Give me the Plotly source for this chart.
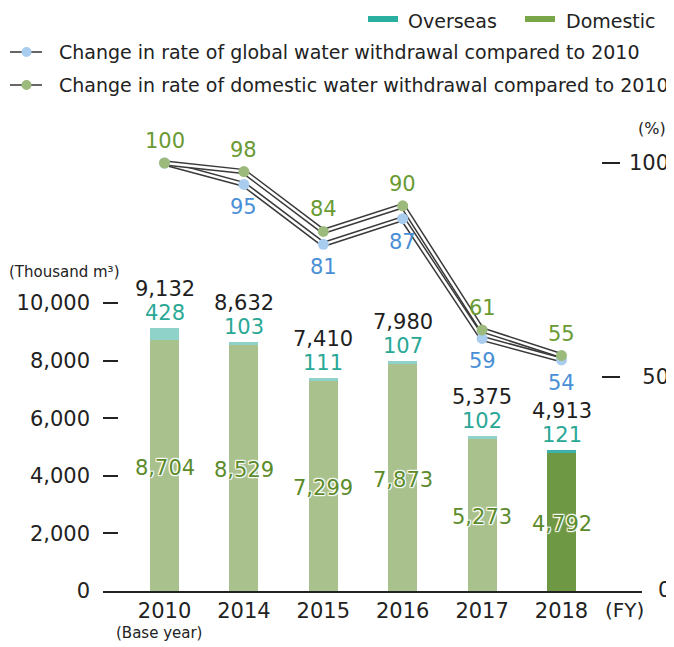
import plotly.graph_objects as go

# ---------------- data ----------------
years = ["2010", "2014", "2015", "2016", "2017", "2018"]
domestic = [8704, 8529, 7299, 7873, 5273, 4792]
overseas = [428, 103, 111, 107, 102, 121]
totals = [9132, 8632, 7410, 7980, 5375, 4913]
global_rate = [100, 95, 81, 87, 59, 54]
domestic_rate = [100, 98, 84, 90, 61, 55]
left_ticks = [0, 2000, 4000, 6000, 8000, 10000]
right_ticks = [50, 100]

# ---------------- layout geometry ----------------
# the page body has an 8px margin, so the figure is sized to fill the rest of the window
OFF = 8
W, H = 674 - OFF, 647 - OFF
L, R, T, B = 103 - OFF, 32, 130 - OFF, 56
PW, PH = W - L - R, H - T - B


def fx(p):  # window pixel x -> paper
    return (p - OFF - L) / PW


def fy(p):  # window pixel y -> paper
    return (H - B - (p - OFF)) / PH


FONT = "DejaVu Sans"
xs = list(range(len(years)))

dom_colors = ["#a9c18d"] * 5 + ["#6f9845"]
ovs_colors = ["#8fd2c9"] * 5 + ["#3fb1ab"]

fig = go.Figure()
fig.add_trace(go.Bar(x=xs, y=domestic, width=0.365, marker=dict(color=dom_colors, line=dict(width=0)),
                     showlegend=False, hoverinfo="skip"))
fig.add_trace(go.Bar(x=xs, y=overseas, width=0.365, marker=dict(color=ovs_colors, line=dict(width=0)),
                     showlegend=False, hoverinfo="skip"))

# double lines (dark outline + white core)
for series in (global_rate, domestic_rate):
    fig.add_trace(go.Scatter(x=xs, y=series, yaxis="y2", mode="lines",
                             line=dict(color="#3a3a3a", width=5.5), showlegend=False, hoverinfo="skip"))
    fig.add_trace(go.Scatter(x=xs, y=series, yaxis="y2", mode="lines",
                             line=dict(color="white", width=2.5), showlegend=False, hoverinfo="skip"))
fig.add_trace(go.Scatter(x=xs, y=global_rate, yaxis="y2", mode="markers",
                         marker=dict(color="#a8cdee", size=11), showlegend=False, hoverinfo="skip"))
fig.add_trace(go.Scatter(x=xs, y=domestic_rate, yaxis="y2", mode="markers",
                         marker=dict(color="#9dba7d", size=11), showlegend=False, hoverinfo="skip"))

ann = []
halo = "1px 1px 1px white, -1px -1px 1px white, 1px -1px 1px white, -1px 1px 1px white, 0 0 2px white"
for i in xs:
    ann.append(dict(x=i, y=totals[i], xref="x", yref="y", text=f"{totals[i]:,}", showarrow=False,
                    yshift=39, font=dict(family=FONT, size=21, color="#1e1e1e")))
    ann.append(dict(x=i, y=totals[i], xref="x", yref="y", text=f"{overseas[i]:,}", showarrow=False,
                    yshift=15, font=dict(family=FONT, size=21, color="#2aa896")))
    ann.append(dict(x=i, y=domestic[i] / 2, xref="x", yref="y", text=f"{domestic[i]:,}", showarrow=False,
                    yshift=-2, font=dict(family=FONT, size=21, color="#5b8b2b", shadow=halo)))
    ann.append(dict(x=i, y=domestic_rate[i], xref="x", yref="y2", text=str(domestic_rate[i]), showarrow=False,
                    yshift=22, font=dict(family=FONT, size=21, color="#6a9a33")))
    if i > 0:
        ann.append(dict(x=i, y=global_rate[i], xref="x", yref="y2", text=str(global_rate[i]), showarrow=False,
                        yshift=-23, font=dict(family=FONT, size=21, color="#4a8fd6")))

# axis captions
ann.append(dict(x=fx(7), y=fy(272), xref="paper", yref="paper", xanchor="left", yanchor="middle",
                text="(Thousand m³)", showarrow=False, font=dict(family=FONT, size=15, color="#222")))
ann.append(dict(x=fx(668), y=fy(128), xref="paper", yref="paper", xanchor="right", yanchor="middle",
                text="(%)", showarrow=False, font=dict(family=FONT, size=16, color="#222")))
ann.append(dict(x=fx(603), y=fy(610), xref="paper", yref="paper", xanchor="left", yanchor="middle",
                text="(FY)", showarrow=False, font=dict(family=FONT, size=20, color="#222")))
ann.append(dict(x=fx(656), y=fy(590), xref="paper", yref="paper", xanchor="left", yanchor="middle",
                text="0", showarrow=False, font=dict(family=FONT, size=21, color="#222")))
ann.append(dict(x=fx(159), y=fy(633), xref="paper", yref="paper", xanchor="center", yanchor="middle",
                text="(Base year)", showarrow=False, font=dict(family=FONT, size=15, color="#222")))

# legend (manual)
shapes = []
ann.append(dict(x=fx(406), y=fy(21), xref="paper", yref="paper", xanchor="left", yanchor="middle",
                text="Overseas", showarrow=False, font=dict(family=FONT, size=19, color="#222")))
ann.append(dict(x=fx(564), y=fy(21), xref="paper", yref="paper", xanchor="left", yanchor="middle",
                text="Domestic", showarrow=False, font=dict(family=FONT, size=19, color="#222")))
shapes.append(dict(type="line", xref="paper", yref="paper", x0=fx(368), x1=fx(398), y0=fy(19), y1=fy(19),
                   line=dict(color="#2aaea0", width=6)))
shapes.append(dict(type="line", xref="paper", yref="paper", x0=fx(525), x1=fx(555), y0=fy(19), y1=fy(19),
                   line=dict(color="#7aa64a", width=6)))
for yy, col, label in [(52, "#a8cdee", "Change in rate of global water withdrawal compared to 2010"),
                       (85, "#9dba7d", "Change in rate of domestic water withdrawal compared to 2010")]:
    shapes.append(dict(type="line", xref="paper", yref="paper", x0=fx(10), x1=fx(42), y0=fy(yy), y1=fy(yy),
                       line=dict(color="#333", width=1.5)))
    shapes.append(dict(type="circle", xref="paper", yref="paper", x0=fx(21.5), x1=fx(31.5),
                       y0=fy(yy + 5), y1=fy(yy - 5), line=dict(width=0), fillcolor=col))
    ann.append(dict(x=fx(57), y=fy(yy), xref="paper", yref="paper", xanchor="left", yanchor="middle",
                    text=label, showarrow=False, font=dict(family=FONT, size=19, color="#222")))

left_max = PH / 0.0288
right_max = PH / 4.28

fig.update_layout(
    width=W, height=H, margin=dict(l=L, r=R, t=T, b=B, autoexpand=False),
    paper_bgcolor="white", plot_bgcolor="white",
    barmode="stack", bargap=0, showlegend=False,
    font=dict(family=FONT, color="#222"),
    xaxis=dict(range=[-0.775, 6.014], tickvals=xs, ticktext=years, showline=True, linecolor="#222",
               linewidth=2, ticks="", showgrid=False, zeroline=False, automargin=False,
               tickfont=dict(family=FONT, size=21, color="#222")),
    yaxis=dict(range=[0, left_max], tickvals=left_ticks, ticktext=[f"{v:,}" for v in left_ticks],
               ticks="inside", ticklen=15, tickwidth=1.5, tickcolor="#222", showline=False,
               showgrid=False, zeroline=False, ticklabelstandoff=12, automargin=False,
               tickfont=dict(family=FONT, size=21, color="#222")),
    yaxis2=dict(range=[0, right_max], overlaying="y", side="right", anchor="free", position=fx(620),
                tickvals=right_ticks, ticktext=["\u200750", "100"], ticks="inside", ticklen=18,
                tickwidth=1.5, tickcolor="#222", showline=False, showgrid=False, zeroline=False,
                ticklabelstandoff=8, automargin=False, tickfont=dict(family=FONT, size=21, color="#222")),
    annotations=ann, shapes=shapes,
)

fig.write_html("out.html")
